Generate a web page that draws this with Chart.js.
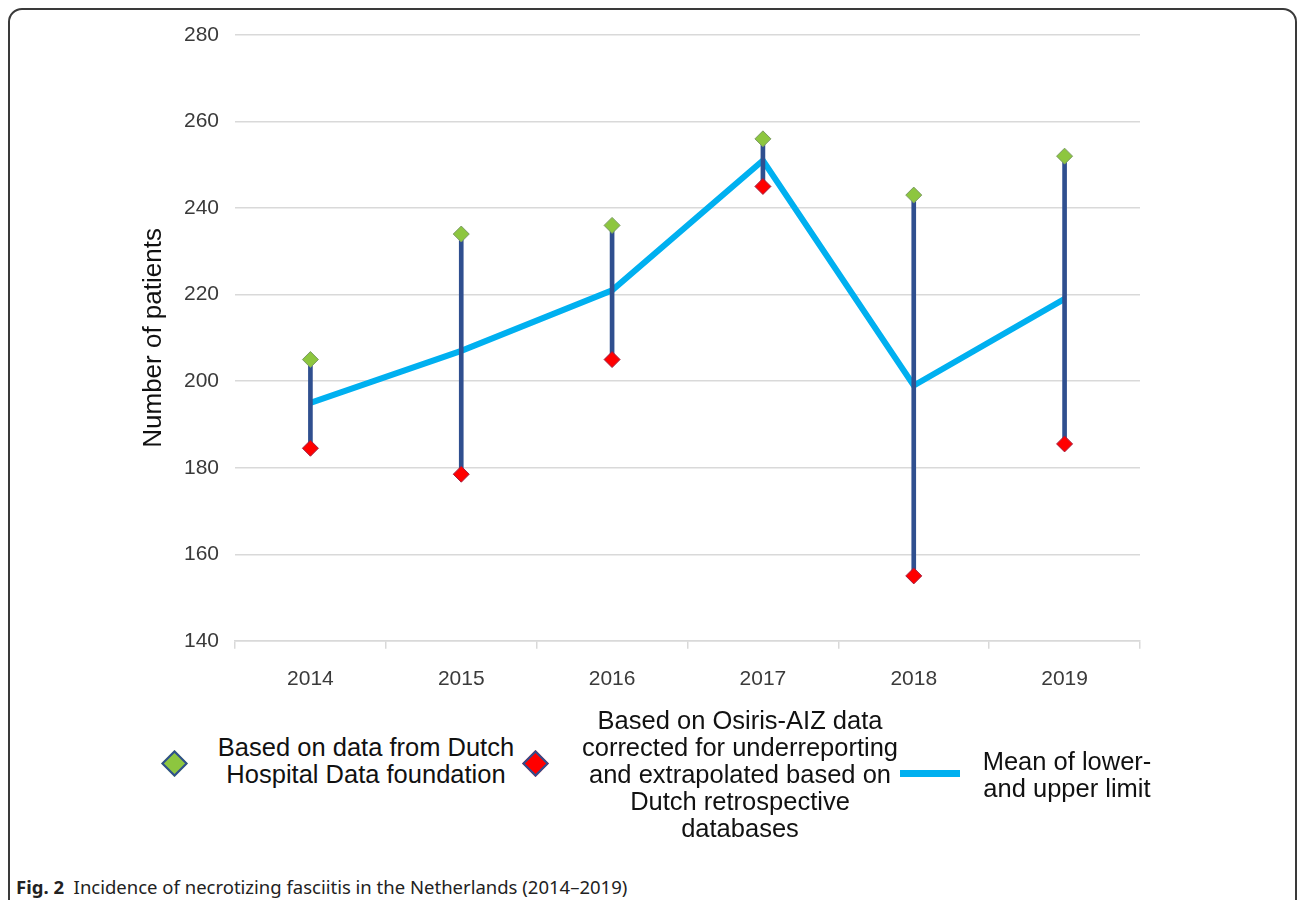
<!DOCTYPE html>
<html>
<head>
<meta charset="utf-8">
<script src="https://cdn.jsdelivr.net/npm/chart.js@4.4.1/dist/chart.umd.min.js"></script>
<style>
    body { margin: 0; background: #fff; width: 1298px; height: 900px; overflow: hidden; position: relative; }
    .frame { position: absolute; left: 8px; top: 8px; width: 1285px; height: 960px; border: 2px solid #3a3a3a; border-radius: 14px; }
    #chart { position: absolute; left: 0; top: 0; }
    .leg { position: absolute; font-family: "Liberation Sans", Arial, sans-serif; font-size: 25.5px; line-height: 27px; color: #111; text-align: center; }
    .dia { position: absolute; width: 15px; height: 15px; transform: rotate(45deg); border: 2.5px solid #2f4f8f; }
    .bar { position: absolute; width: 60px; height: 7px; background: #00b0f0; }
    .caption { position: absolute; left: 16px; top: 874px; font-family: "Noto Sans", sans-serif; font-size: 18.5px; color: #222; }
</style>
</head>
<body>
<div class="frame"></div>
<canvas id="chart" width="1298" height="710"></canvas>

<div class="dia" style="left:165px; top:754px; background:#8dc63f;"></div>
<div class="leg" style="left:206px; top:734px; width:320px;">Based on data from Dutch<br>Hospital Data foundation</div>

<div class="dia" style="left:526px; top:754px; background:#ff0000;"></div>
<div class="leg" style="left:560px; top:707px; width:360px;">Based on Osiris-AIZ data<br>corrected for underreporting<br>and extrapolated based on<br>Dutch retrospective<br>databases</div>

<div class="bar" style="left:900px; top:770px;"></div>
<div class="leg" style="left:982px; top:748px; width:170px;">Mean of lower-<br>and upper limit</div>

<div class="caption"><b>Fig. 2</b>&nbsp; Incidence of necrotizing fasciitis in the Netherlands (2014–2019)</div>

<script>
const years = ['2014', '2015', '2016', '2017', '2018', '2019'];
const upperDHD = [205, 234, 236, 256, 243, 252];
const lowerOsiris = [184.5, 178.5, 205, 245, 155, 185.5];
const meanLimits = [195, 207, 221, 251, 199, 219];

const yMin = 140;
const yMax = 280;
const yStep = 20;

const ranges = years.map((_, i) => [lowerOsiris[i], upperDHD[i]]);

const tickFont = { family: '"Liberation Sans", Arial, sans-serif', size: 21 };

new Chart(document.getElementById('chart'), {
    type: 'bar',
    data: {
        labels: years,
        datasets: [
            {
                type: 'line',
                label: 'Based on data from Dutch Hospital Data foundation',
                data: upperDHD,
                showLine: false,
                pointStyle: 'rectRot',
                pointRadius: 8,
                pointBackgroundColor: '#8dc63f',
                pointBorderColor: '#7a9a62',
                pointBorderWidth: 1,
                order: 0,
            },
            {
                type: 'line',
                label: 'Based on Osiris-AIZ data',
                data: lowerOsiris,
                showLine: false,
                pointStyle: 'rectRot',
                pointRadius: 8,
                pointBackgroundColor: '#ff0000',
                pointBorderColor: '#a02040',
                pointBorderWidth: 1,
                order: 0,
            },
            {
                label: 'Range',
                data: ranges,
                backgroundColor: '#2f4f8f',
                barThickness: 4,
                order: 1,
            },
            {
                type: 'line',
                label: 'Mean of lower- and upper limit',
                data: meanLimits,
                borderColor: '#00b0f0',
                borderWidth: 6,
                pointRadius: 0,
                tension: 0,
                order: 2,
            },
        ],
    },
    options: {
        responsive: false,
        animation: false,
        layout: { padding: { left: 135, top: 35, right: 158, bottom: 0 } },
        plugins: { legend: { display: false }, tooltip: { enabled: false } },
        scales: {
            x: {
                offset: true,
                grid: { offset: true, drawOnChartArea: false, drawTicks: true, tickLength: 8, color: '#d9d9d9', lineWidth: 1.5 },
                border: { color: '#d9d9d9', width: 1.5 },
                ticks: { color: '#3a3a3a', font: tickFont, padding: 18 },
            },
            y: {
                min: yMin,
                max: yMax,
                afterFit: (scale) => { scale.width = 100; },
                ticks: { stepSize: yStep, color: '#3a3a3a', font: tickFont, padding: 16 },
                grid: { drawTicks: false, color: '#d9d9d9', lineWidth: 1.5 },
                border: { display: false },
                title: {
                    display: true,
                    text: 'Number of patients',
                    color: '#111',
                    font: { family: '"Liberation Sans", Arial, sans-serif', size: 26 },
                    padding: { top: 3, bottom: 0 },
                },
            },
        },
    },
});
</script>
</body>
</html>
